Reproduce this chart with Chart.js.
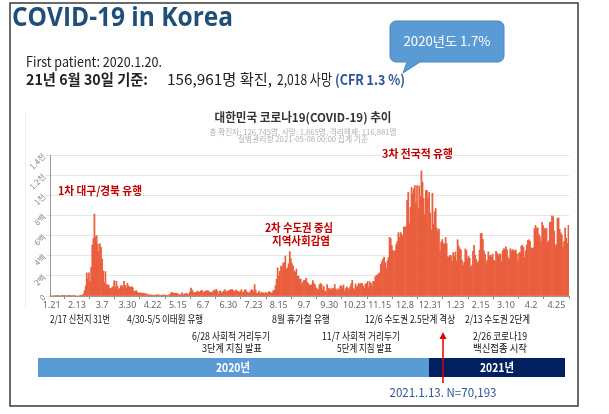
<!DOCTYPE html>
<html>
<head>
<meta charset="utf-8">
<script src="https://cdn.jsdelivr.net/npm/chart.js@4.4.0/dist/chart.umd.min.js"></script>
<style>
  html, body { margin: 0; padding: 0; background: #fff; overflow: hidden; }
  canvas { display: block; }
</style>
</head>
<body>
<canvas id="covid-chart" width="609" height="414"></canvas>
<script>
// daily confirmed cases
const start = [2020, 0, 20];
const cases2020Jan = [1, 0, 0, 0, 1, 0, 1, 1, 0, 0, 2, 4];
const cases2020Feb = [1, 3, 0, 1, 3, 4, 1, 0, 3, 0, 1, 0, 0, 0, 0, 2, 1, 1, 20, 53, 100, 229, 169, 231, 144, 284, 505, 571, 813];
const cases2020Mar = [586, 599, 516, 438, 518, 483, 367, 248, 131, 242, 114, 110, 107, 76, 74, 84, 93, 152, 87, 147, 98, 64, 76, 100, 104, 91, 146, 105, 78, 125, 101];
const cases2020Apr = [89, 86, 94, 81, 47, 47, 53, 39, 27, 30, 32, 25, 27, 27, 22, 22, 18, 8, 13, 9, 11, 8, 6, 10, 10, 10, 14, 9, 4, 9];
const cases2020May = [6, 13, 8, 3, 2, 4, 12, 18, 34, 35, 27, 26, 29, 27, 19, 13, 15, 13, 32, 12, 20, 23, 25, 16, 19, 40, 79, 58, 39, 27, 35];
const cases2020Jun = [38, 49, 39, 39, 51, 57, 38, 38, 50, 45, 56, 49, 34, 37, 34, 43, 59, 49, 67, 48, 17, 46, 51, 28, 39, 51, 62, 42, 43, 51];
const cases2020Jul = [54, 63, 63, 61, 48, 44, 62, 50, 45, 35, 44, 62, 33, 39, 61, 60, 39, 34, 26, 45, 63, 59, 41, 113, 58, 25, 28, 48, 18, 36, 31];
const cases2020Aug = [30, 23, 34, 33, 20, 43, 36, 28, 34, 54, 56, 103, 166, 279, 197, 246, 297, 288, 324, 332, 397, 266, 280, 320, 441, 371, 323, 299, 248, 235, 267];
const cases2020Sep = [195, 198, 168, 167, 119, 136, 156, 155, 176, 136, 121, 109, 106, 113, 153, 126, 110, 82, 70, 61, 110, 125, 114, 61, 95, 50, 38, 113, 77, 63];
const cases2020Oct = [75, 64, 73, 75, 114, 69, 54, 72, 58, 98, 102, 84, 110, 47, 73, 91, 76, 58, 91, 121, 155, 77, 61, 119, 88, 103, 125, 114, 127, 124, 97];
const cases2020Nov = [75, 118, 125, 145, 89, 143, 126, 100, 146, 143, 191, 205, 208, 223, 230, 313, 343, 363, 386, 330, 271, 349, 382, 583, 569, 503, 450, 438, 451, 511];
const cases2020Dec = [540, 628, 583, 631, 615, 594, 686, 682, 689, 950, 1030, 718, 880, 1078, 1014, 1064, 1097, 926, 1097, 869, 1092, 985, 1241, 1132, 970, 808, 1046, 1050, 967, 1029, 824];
const cases2021Jan = [657, 1020, 714, 838, 869, 674, 641, 665, 451, 537, 561, 524, 513, 580, 520, 389, 386, 404, 400, 346, 431, 392, 437, 349, 559, 497, 469, 458, 355, 305, 336];
const cases2021Feb = [467, 451, 370, 393, 372, 288, 303, 444, 504, 403, 362, 326, 344, 457, 621, 621, 561, 448, 416, 332, 357, 440, 396, 406, 388, 415, 355, 344];
const cases2021Mar = [444, 424, 398, 418, 416, 346, 446, 470, 465, 488, 459, 382, 363, 469, 445, 463, 445, 452, 456, 415, 346, 428, 430, 494, 505, 482, 382, 447, 506, 551, 557];
const cases2021Apr = [543, 477, 473, 478, 668, 700, 671, 677, 614, 587, 542, 731, 698, 673, 658, 672, 532, 549, 731, 735, 797, 785, 644, 499, 512, 769, 775, 661, 627, 606];
const cases2021May = [488, 541, 676, 574, 525, 701];

const xTickLabels = ['2020.1.21', '2020.2.13', '2020.3.7', '2020.3.30', '2020.4.22', '2020.5.15', '2020.6.7',
  '2020.6.30', '2020.7.23', '2020.8.15', '2020.9.7', '2020.9.30', '2020.10.23', '2020.11.15', '2020.12.8',
  '2020.12.31', '2021.1.23', '2021.2.15', '2021.3.10', '2021.4.2', '2021.4.25'];
const yTickLabels = ['0', '2백', '4백', '6백', '8백', '1천', '1.2천', '1.4천'];

const cases = [].concat(cases2020Jan, cases2020Feb, cases2020Mar, cases2020Apr, cases2020May, cases2020Jun,
  cases2020Jul, cases2020Aug, cases2020Sep, cases2020Oct, cases2020Nov, cases2020Dec,
  cases2021Jan, cases2021Feb, cases2021Mar, cases2021Apr, cases2021May);

const labels = cases.map((v, i) => {
  const d = new Date(start[0], start[1], start[2] + i);
  return d.getFullYear() + '.' + (d.getMonth() + 1) + '.' + d.getDate();
});

const KR = '"Noto Sans CJK KR", "Noto Sans", sans-serif';

function txt(ctx, s, x, y, o) {
  ctx.save();
  ctx.font = (o.bold ? 'bold ' : '') + o.size + 'px ' + (o.family || KR);
  ctx.fillStyle = o.color || '#222';
  ctx.textBaseline = 'middle';
  ctx.textAlign = 'left';
  const w = ctx.measureText(s).width;
  const tw = o.w || w;
  const x0 = o.align === 'center' ? x - tw / 2 : x;
  ctx.translate(x0, y);
  ctx.scale(tw / w, 1);
  ctx.fillText(s, 0, 0);
  ctx.restore();
}

const slide = {
  id: 'slide',
  beforeDraw(chart) {
    const ctx = chart.ctx;
    ctx.save();
    ctx.fillStyle = '#fff';
    ctx.fillRect(0, 0, chart.width, chart.height);
    // faint edge of the pasted chart image
    ctx.strokeStyle = '#f0f0f0';
    ctx.lineWidth = 1;
    ctx.beginPath();
    ctx.moveTo(25.5, 112);
    ctx.lineTo(25.5, 308);
    ctx.stroke();
    ctx.restore();
  },
  afterDraw(chart) {
    const ctx = chart.ctx;
    ctx.save();

    // frame
    ctx.strokeStyle = '#3a3a3a';
    ctx.lineWidth = 1.5;
    ctx.strokeRect(10, 3, 568, 403);

    // heading
    txt(ctx, 'COVID-19 in Korea', 12, 18.5, { size: 27, bold: true, color: '#1F4E79', w: 221, family: '"Open Sans", "Noto Sans", sans-serif' });
    txt(ctx, 'First patient: 2020.1.20.', 26, 61.5, { size: 14, w: 136 });
    txt(ctx, '21년 6월 30일 기준:', 26, 79.5, { size: 15, bold: true, w: 122 });
    txt(ctx, '156,961명 확진,', 167, 79.5, { size: 15, w: 105, color: '#222' });
    txt(ctx, '2,018 사망', 277, 79.5, { size: 15, w: 55, color: '#222' });
    txt(ctx, '(CFR 1.3 %)', 335, 79.5, { size: 14, bold: true, w: 70, color: '#2F5597' });

    // callout
    const L = 390, R = 504, T = 21, B = 62, r = 6;
    ctx.beginPath();
    ctx.moveTo(L + r, T);
    ctx.arcTo(R, T, R, B, r);
    ctx.arcTo(R, B, L, B, r);
    ctx.lineTo(420, B);
    ctx.lineTo(403, 73);
    ctx.lineTo(407, B);
    ctx.arcTo(L, B, L, T, r);
    ctx.arcTo(L, T, R, T, r);
    ctx.closePath();
    ctx.fillStyle = '#5B9BD5';
    ctx.fill();
    ctx.strokeStyle = '#4A86C0';
    ctx.lineWidth = 1;
    ctx.stroke();
    txt(ctx, '2020년도 1.7%', 447, 41.5, { size: 13, color: '#fff', w: 87, align: 'center' });

    // chart title
    txt(ctx, '대한민국 코로나19(COVID-19) 추이', 303, 117, { size: 12, bold: true, color: '#333', w: 177, align: 'center' });
    txt(ctx, '총 확진자: 126,745명, 사망: 1,865명, 격리해제: 116,881명', 303, 132.5, { size: 7.5, color: '#b0b0b0', w: 187, align: 'center' });
    txt(ctx, '질병관리청 2021-05-08 00:00 집계 기준', 303, 139.5, { size: 7.5, color: '#b0b0b0', w: 130, align: 'center' });

    // wave labels
    const red = '#C00000';
    txt(ctx, '1차 대구/경북 유행', 58, 191, { size: 11.5, bold: true, color: red, w: 84 });
    txt(ctx, '2차 수도권 중심', 265, 228, { size: 11.5, bold: true, color: red, w: 68 });
    txt(ctx, '지역사회감염', 272, 241, { size: 11.5, bold: true, color: red, w: 58 });
    txt(ctx, '3차 전국적 유행', 382, 154, { size: 11.5, bold: true, color: red, w: 71 });

    // events under the axis
    const ev = '#111';
    txt(ctx, '2/17 신천지 31번', 50, 319, { size: 10.5, color: ev, w: 60 });
    txt(ctx, '4/30-5/5 이태원 유행', 127, 319, { size: 10.5, color: ev, w: 76 });
    txt(ctx, '8월 휴가철 유행', 272, 319, { size: 10.5, color: ev, w: 58 });
    txt(ctx, '12/6 수도권 2.5단계 격상', 365, 319, { size: 10.5, color: ev, w: 90 });
    txt(ctx, '2/13 수도권 2단계', 465, 319, { size: 10.5, color: ev, w: 65 });
    txt(ctx, '6/28 사회적 거리두기', 192, 336, { size: 10.5, color: ev, w: 78 });
    txt(ctx, '3단계 지침 발표', 232, 348.5, { size: 10.5, color: ev, w: 60, align: 'center' });
    txt(ctx, '11/7 사회적 거리두기', 322, 336, { size: 10.5, color: ev, w: 78 });
    txt(ctx, '5단계 지침 발표', 364.5, 348.5, { size: 10.5, color: ev, w: 55, align: 'center' });
    txt(ctx, '2/26 코로나19', 473, 336, { size: 10.5, color: ev, w: 54 });
    txt(ctx, '백신접종 시작', 500, 348.5, { size: 10.5, color: ev, w: 54, align: 'center' });

    // year bar
    ctx.fillStyle = '#5B9BD5';
    ctx.fillRect(38, 358, 391, 19);
    ctx.fillStyle = '#002060';
    ctx.fillRect(429, 358, 136, 19);
    txt(ctx, '2020년', 233, 367.5, { size: 12, bold: true, color: '#fff', w: 34, align: 'center' });
    txt(ctx, '2021년', 497, 367.5, { size: 12, bold: true, color: '#fff', w: 34, align: 'center' });

    // arrow to 2021.1.13
    ctx.strokeStyle = '#E00000';
    ctx.lineWidth = 1.5;
    ctx.beginPath();
    ctx.moveTo(443, 383);
    ctx.lineTo(443, 338);
    ctx.stroke();
    ctx.fillStyle = '#E00000';
    ctx.beginPath();
    ctx.moveTo(443, 332);
    ctx.lineTo(439.5, 339);
    ctx.lineTo(446.5, 339);
    ctx.closePath();
    ctx.fill();
    txt(ctx, '2021.1.13. N=70,193', 443, 392, { size: 12, color: '#2F5597', w: 107, align: 'center' });

    ctx.restore();
  }
};

new Chart(document.getElementById('covid-chart'), {
  type: 'bar',
  data: {
    labels: labels,
    datasets: [{
      data: cases,
      backgroundColor: '#E95F3E',
      barPercentage: 1,
      categoryPercentage: 1
    }]
  },
  options: {
    responsive: false,
    devicePixelRatio: 1,
    animation: false,
    layout: {
      padding: { left: 0, right: 40, top: 155, bottom: 0 }
    },
    plugins: {
      legend: { display: false },
      tooltip: { enabled: false }
    },
    scales: {
      x: {
        grid: { drawOnChartArea: false, drawTicks: true, tickLength: 3, color: '#888' },
        border: { color: '#999' },
        ticks: {
          autoSkip: false,
          maxRotation: 0,
          minRotation: 0,
          padding: 1,
          color: '#666',
          font: { size: 9, family: '"Noto Sans", sans-serif' },
          callback: function(value, index) {
            const l = labels[index];
            return xTickLabels.includes(l) ? l.slice(5) : null;
          }
        },
        afterFit: scale => { scale.height = 118; }
      },
      y: {
        min: 0,
        max: 1400,
        grid: { color: '#e6e6e6', tickLength: 4 },
        border: { color: '#999' },
        ticks: {
          stepSize: 200,
          minRotation: 45,
          maxRotation: 45,
          padding: 2,
          color: '#888',
          font: { size: 8, family: KR },
          callback: value => yTickLabels[value / 200]
        },
        afterFit: scale => { scale.width = 50; }
      }
    }
  },
  plugins: [slide]
});
</script>
</body>
</html>
